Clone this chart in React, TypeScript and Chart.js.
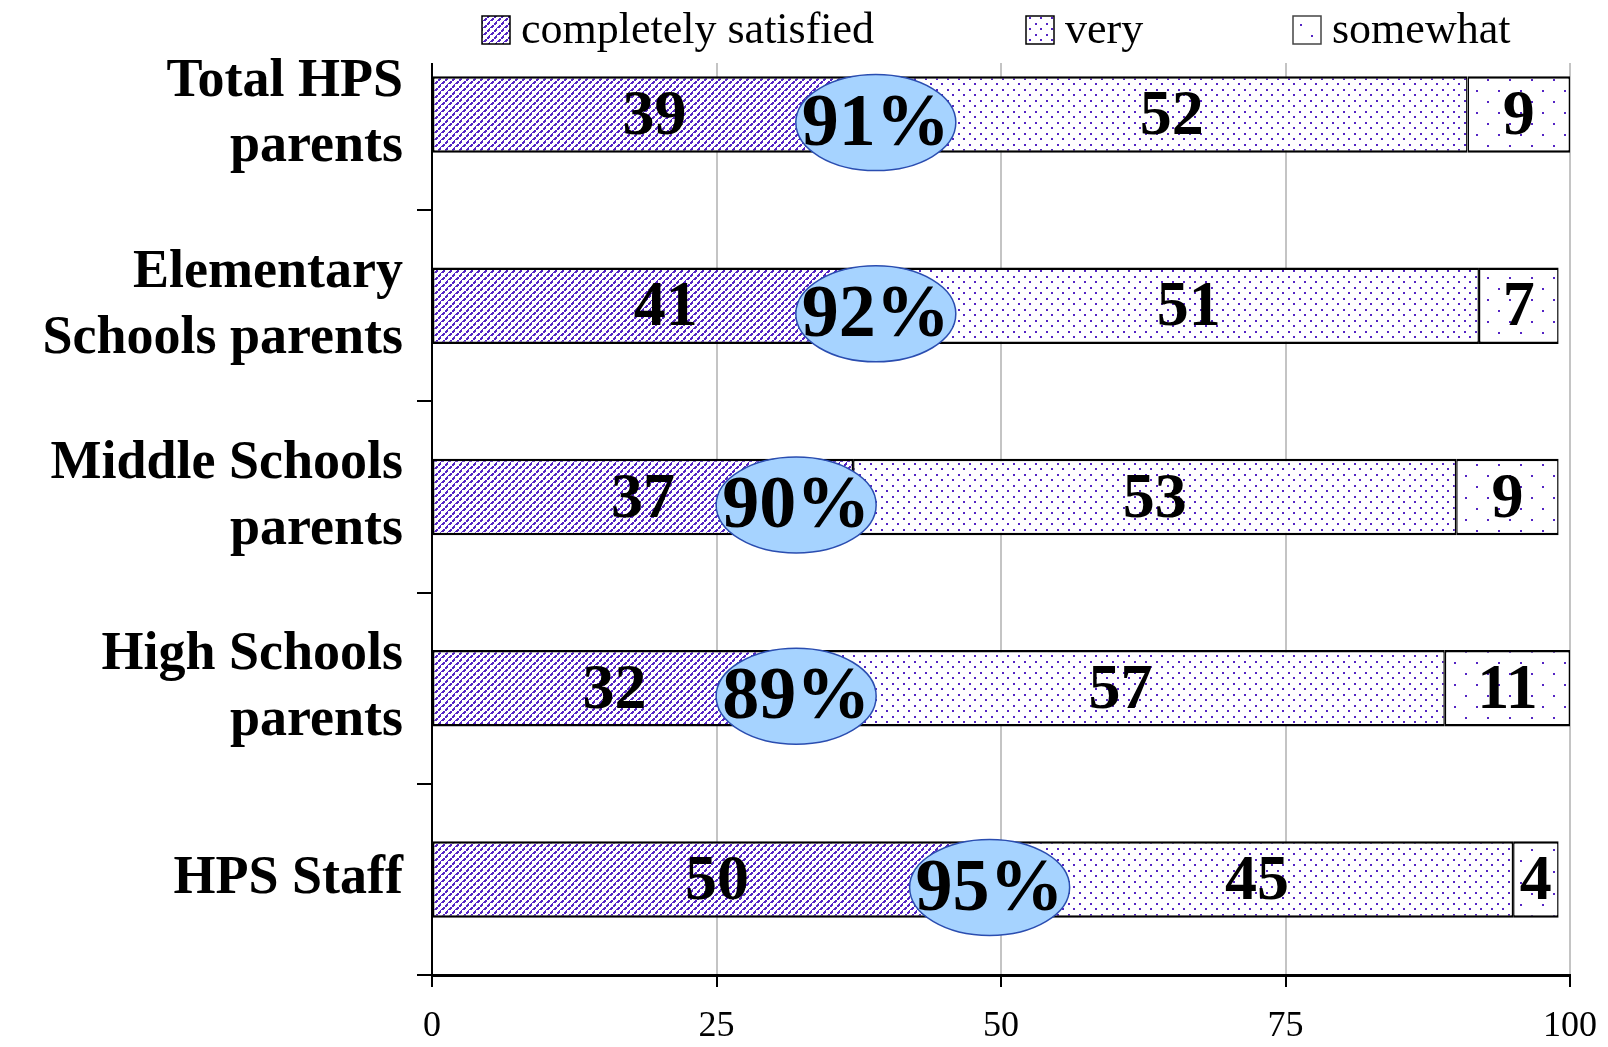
import React, { useEffect, useRef } from "react";
import { Chart, registerables } from "chart.js";

Chart.register(...registerables);

const categories: (string | string[])[] = [
  ["Total HPS", "parents"],
  ["Elementary", "Schools parents"],
  ["Middle Schools", "parents"],
  ["High Schools", "parents"],
  "HPS Staff",
];
const seriesNames = ["completely satisfied", "very", "somewhat"];
const completelySatisfied = [39, 41, 37, 32, 50];
const verySatisfied = [52, 51, 53, 57, 45];
const somewhatSatisfied = [9, 7, 9, 11, 4];
const topTwoTotals = [91, 92, 90, 89, 95];
const ellipseAnchor = [39, 39, 32, 32, 49];
const xTickValues = [0, 25, 50, 75, 100];

const PURPLE = "#5424C4";
const SERIF = "'Liberation Serif', 'Times New Roman', serif";

function makeTile(size: number, draw: (g: CanvasRenderingContext2D) => void) {
  const c = document.createElement("canvas");
  c.width = size;
  c.height = size;
  const g = c.getContext("2d")!;
  g.fillStyle = "#ffffff";
  g.fillRect(0, 0, size, size);
  g.fillStyle = PURPLE;
  draw(g);
  return c;
}

function makePatterns(ctx: CanvasRenderingContext2D) {
  const hatch = makeTile(7, (g) => {
    for (let i = 0; i < 7; i++) {
      if (i % 4 < 3) g.fillRect(i, 6 - i, 2, 2);
    }
  });
  const dense = makeTile(11, (g) => {
    g.fillRect(1, 1, 2, 2);
    g.fillRect(6, 6, 2, 2);
  });
  const sparse = makeTile(22, (g) => {
    g.fillRect(2, 2, 2, 2);
    g.fillRect(13, 13, 2, 2);
  });
  return [
    ctx.createPattern(hatch, "repeat")!,
    ctx.createPattern(dense, "repeat")!,
    ctx.createPattern(sparse, "repeat")!,
  ];
}

export default function App() {
  const ref = useRef<HTMLCanvasElement | null>(null);

  useEffect(() => {
    const canvas = ref.current!;
    const ctx0 = canvas.getContext("2d")!;
    const patterns = makePatterns(ctx0);
    const seriesData = [completelySatisfied, verySatisfied, somewhatSatisfied];

    const overlay = {
      id: "overlay",
      afterDraw(chart: any) {
        const { ctx } = chart;
        const xs = chart.scales.x;
        const ys = chart.scales.y;
        ctx.save();
        // legend box background covering top of plot
        ctx.fillStyle = "#ffffff";
        ctx.fillRect(415, 0, chart.width - 415, 63);

        // value labels
        ctx.fillStyle = "#000";
        ctx.textAlign = "center";
        ctx.textBaseline = "middle";
        ctx.font = `bold 64px ${SERIF}`;
        chart.data.datasets.forEach((ds: any, di: number) => {
          const meta = chart.getDatasetMeta(di);
          meta.data.forEach((bar: any, i: number) => {
            const p = bar.getProps(["x", "base", "y"], true);
            ctx.fillText(String(ds.data[i]), (p.x + p.base) / 2, p.y + 3);
          });
        });

        // ellipses with totals
        categories.forEach((_, i) => {
          const cx = xs.getPixelForValue(ellipseAnchor[i]);
          const cy = ys.getPixelForValue(i) + 8;
          ctx.beginPath();
          ctx.ellipse(cx, cy, 80, 48, 0, 0, Math.PI * 2);
          ctx.fillStyle = "#A6D3FF";
          ctx.fill();
          ctx.lineWidth = 1.5;
          ctx.strokeStyle = "#2A4DB0";
          ctx.stroke();
          ctx.fillStyle = "#000";
          ctx.font = `bold 74px ${SERIF}`;
          ctx.fillText(topTwoTotals[i] + "%", cx, cy + 3);
        });

        // legend
        const legendX = [482, 1026, 1293];
        ctx.font = `44px ${SERIF}`;
        ctx.textAlign = "left";
        seriesNames.forEach((name, i) => {
          const bx = legendX[i];
          ctx.fillStyle = patterns[i];
          ctx.fillRect(bx, 16, 28, 28);
          ctx.lineWidth = 1.5;
          ctx.strokeStyle = i === 2 ? "#444" : "#000";
          ctx.strokeRect(bx, 16, 28, 28);
          ctx.fillStyle = "#000";
          ctx.fillText(name, bx + 39, 31);
        });
        ctx.restore();
      },
    };

    const chart = new Chart(canvas, {
      type: "bar",
      data: {
        labels: categories as any,
        datasets: seriesNames.map((name, i) => ({
          label: name,
          data: seriesData[i],
          backgroundColor: patterns[i] as any,
          borderColor: "#000",
          borderWidth: { top: 2.5, bottom: 2.5, left: 1.5, right: 1.5 } as any,
          borderSkipped: false as any,
          barPercentage: 0.4,
          categoryPercentage: 1,
        })),
      },
      options: {
        indexAxis: "y",
        animation: false,
        responsive: true,
        maintainAspectRatio: false,
        layout: { padding: { top: 19, right: 38, left: 0, bottom: 0 } },
        plugins: {
          legend: { display: false },
          tooltip: { enabled: false },
        },
        scales: {
          x: {
            stacked: true,
            min: 0,
            max: 100,
            afterBuildTicks: (s: any) => {
              s.ticks = xTickValues.map((v) => ({ value: v }));
            },
            afterFit: (s: any) => {
              s.height = 72;
              s.paddingLeft = 0;
              s.paddingRight = 0;
            },
            ticks: {
              autoSkip: false,
              maxRotation: 0,
              color: "#000",
              padding: 18,
              font: { family: SERIF, size: 36 },
            },
            grid: {
              color: "#C4C4C4",
              lineWidth: 2,
              drawTicks: true,
              tickLength: 12,
              tickColor: "#000",
              tickWidth: 2,
            },
            border: { display: true, color: "#000", width: 3 },
          },
          y: {
            stacked: true,
            afterFit: (s: any) => {
              s.width = 432;
              s.paddingTop = 0;
              s.paddingBottom = 0;
            },
            ticks: {
              color: "#000",
              padding: 14,
              font: { family: SERIF, size: 54, weight: "bold", lineHeight: 1.22 },
            },
            grid: {
              display: true,
              offset: true,
              drawOnChartArea: false,
              drawTicks: true,
              tickLength: 15,
              color: "#000",
              tickColor: "#000",
              lineWidth: 2,
            },
            border: { display: true, color: "#000", width: 2 },
          },
        },
      } as any,
      plugins: [overlay],
    });

    return () => chart.destroy();
  }, []);

  return (
    <div style={{ position: "fixed", left: 0, top: 0, width: 1608, height: 1047, background: "#fff" }}>
      <canvas ref={ref} />
    </div>
  );
}
